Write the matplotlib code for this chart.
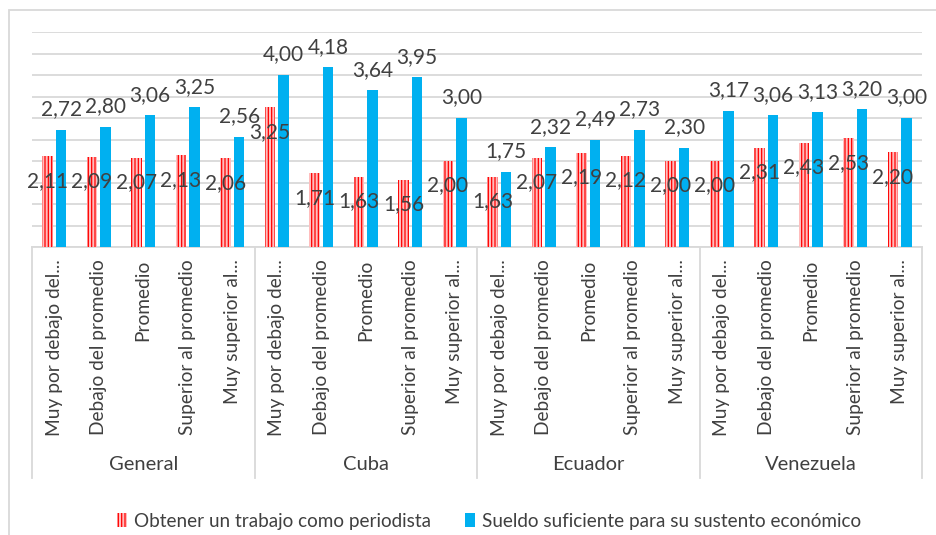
import matplotlib
matplotlib.use("Agg")
import matplotlib.pyplot as plt
from matplotlib.patches import Patch, Rectangle
from matplotlib.lines import Line2D
import matplotlib.transforms as mtransforms

plt.rcParams['font.family'] = ['Lato', 'DejaVu Sans']
plt.rcParams['hatch.linewidth'] = 0.9

groups = ["General", "Cuba", "Ecuador", "Venezuela"]
subcats = ["Muy por debajo del...", "Debajo del promedio", "Promedio",
           "Superior al promedio", "Muy superior al..."]
series_names = ["Obtener un trabajo como periodista",
                "Sueldo suficiente para su sustento económico"]
trabajo = [2.11, 2.09, 2.07, 2.13, 2.06,
           3.25, 1.71, 1.63, 1.56, 2.00,
           1.63, 2.07, 2.19, 2.12, 2.00,
           2.00, 2.31, 2.43, 2.53, 2.20]
sueldo = [2.72, 2.80, 3.06, 3.25, 2.56,
          4.00, 4.18, 3.64, 3.95, 3.00,
          1.75, 2.32, 2.49, 2.73, 2.30,
          3.17, 3.06, 3.13, 3.20, 3.00]

W, H = 937, 535
fig = plt.figure(figsize=(W / 100, H / 100), dpi=100)
ax = fig.add_axes([32 / W, 1 - 247 / H, 890 / W, 215 / H])

n = len(trabajo)
xs = list(range(n))
bw = 0.24
off = 0.155
red_face = '#FFBDBD'
red_bars = ax.bar([x - off for x in xs], trabajo, bw, facecolor=red_face,
                  edgecolor='#FF0000', hatch='|||||', linewidth=0, zorder=3)
blue_bars = ax.bar([x + off for x in xs], sueldo, bw, color='#00B0F0',
                   linewidth=0, zorder=3)

lab_color = '#404040'
fs_val = 15
for x, v in zip(xs, trabajo):
    ax.annotate(f"{v:.2f}".replace('.', ','), (x - off, v), xytext=(0, -17.6),
                textcoords='offset points', ha='center', va='center',
                fontsize=fs_val, color=lab_color, zorder=5)
for x, v in zip(xs, sueldo):
    ax.annotate(f"{v:.2f}".replace('.', ','), (x + off, v), xytext=(0, 14.8),
                textcoords='offset points', ha='center', va='center',
                fontsize=fs_val, color=lab_color, zorder=5)

ax.set_xlim(-0.5, n - 0.5)
ax.set_ylim(0, 5)
ax.set_yticks([i * 0.5 for i in range(11)])
ax.set_yticklabels([])
ax.tick_params(axis='y', length=0)
ax.grid(axis='y', color='#D9D9D9', linewidth=1.3, zorder=0)
ax.set_axisbelow(True)
for s in ['left', 'right', 'top']:
    ax.spines[s].set_visible(False)
ax.spines['bottom'].set_color('#D9D9D9')
ax.spines['bottom'].set_linewidth(1.3)

ax.set_xticks(xs)
ax.set_xticklabels(subcats * len(groups), rotation=90, va='top', ha='center',
                   fontsize=13.8, color=lab_color)
ax.tick_params(axis='x', length=0, pad=9)

trans = mtransforms.blended_transform_factory(ax.transData, ax.transAxes)
y_low = (247 - 478) / 215.0
ng = len(subcats)
for g in range(len(groups) + 1):
    xsep = g * ng - 0.5
    ax.add_line(Line2D([xsep, xsep], [0, y_low], transform=trans,
                       color='#D9D9D9', linewidth=1.3, clip_on=False))
y_grp = (247 - 465) / 215.0
for g, name in enumerate(groups):
    ax.text(g * ng + (ng - 1) / 2, y_grp, name, transform=trans, ha='center',
            va='center', fontsize=14.5, color=lab_color)

# outer chart border
fig.patches.append(Rectangle((9 / W, -0.05), 1.2, 1.05 - 10 / H,
                             transform=fig.transFigure, fill=False,
                             edgecolor='#D9D9D9', linewidth=1.3))

handles = [Patch(facecolor=red_face, edgecolor='#FF0000', hatch='|||||',
                 linewidth=0, label=series_names[0]),
           Patch(facecolor='#00B0F0', linewidth=0, label=series_names[1])]
fig.legend(handles=handles, loc='center', bbox_to_anchor=(489 / W, 1 - 521 / H),
           ncol=2, frameon=False, fontsize=13.6, handlelength=0.55,
           handleheight=0.75, handletextpad=0.35, columnspacing=1.8,
           labelcolor=lab_color)

fig.savefig("out.png", dpi=100)
